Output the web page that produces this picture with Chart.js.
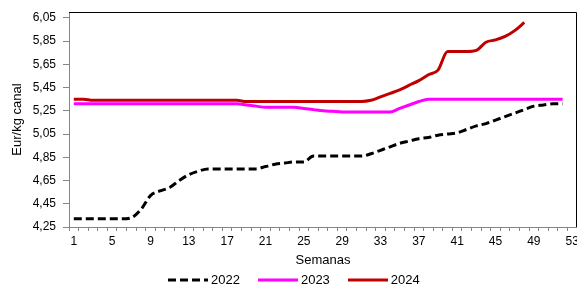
<!DOCTYPE html>
<html>
<head>
<meta charset="utf-8">
<script src="https://cdn.jsdelivr.net/npm/chart.js@4.4.0/dist/chart.umd.min.js"></script>
<style>
    html, body { margin: 0; padding: 0; background: #fff; }
    #wrap { position: relative; width: 577px; height: 286px; }
    #legend { position: absolute; left: 168px; top: 272px; display: flex; align-items: center;
              font: 13px "Liberation Sans", Arial, sans-serif; color: #000; line-height: 16px; }
    .item { display: flex; align-items: center; margin-right: 18px; }
    .item svg { margin-right: 3px; }
</style>
</head>
<body>
<div id="wrap">
    <canvas id="chart" width="577" height="286"></canvas>
    <div id="legend"></div>
</div>
<script>
"use strict";

var weekLabels = ['1', '2', '3', '4', '5', '6', '7', '8', '9', '10', '11', '12', '13', '14', '15', '16', '17', '18',
    '19', '20', '21', '22', '23', '24', '25', '26', '27', '28', '29', '30', '31', '32', '33', '34', '35', '36',
    '37', '38', '39', '40', '41', '42', '43', '44', '45', '46', '47', '48', '49', '50', '51', '52', '53'];

var yTicks = [4.25, 4.45, 4.65, 4.85, 5.05, 5.25, 5.45, 5.65, 5.85, 6.05];

var data2022 = [4.32, 4.32, 4.32, 4.32, 4.32, 4.32, 4.33, 4.40, 4.52, 4.56, 4.59, 4.65, 4.70, 4.73, 4.75, 4.75, 4.75, 4.75,
    4.75, 4.75, 4.77, 4.79, 4.80, 4.81, 4.81, 4.86, 4.86, 4.86, 4.86, 4.86, 4.86, 4.88, 4.91, 4.94, 4.97, 4.99,
    5.01, 5.02, 5.04, 5.05, 5.06, 5.09, 5.12, 5.14, 5.17, 5.20, 5.23, 5.26, 5.29, 5.30, 5.31, 5.31];

var data2023 = [5.31, 5.31, 5.31, 5.31, 5.31, 5.31, 5.31, 5.31, 5.31, 5.31, 5.31, 5.31, 5.31, 5.31, 5.31, 5.31, 5.31, 5.31,
    5.30, 5.29, 5.28, 5.28, 5.28, 5.28, 5.27, 5.26, 5.25, 5.245, 5.24, 5.24, 5.24, 5.24, 5.24, 5.24, 5.27, 5.30,
    5.33, 5.35, 5.35, 5.35, 5.35, 5.35, 5.35, 5.35, 5.35, 5.35, 5.35, 5.35, 5.35, 5.35, 5.35, 5.35];

var data2024 = [5.35, 5.35, 5.34, 5.34, 5.34, 5.34, 5.34, 5.34, 5.34, 5.34, 5.34, 5.34, 5.34, 5.34, 5.34, 5.34, 5.34, 5.34,
    5.33, 5.33, 5.33, 5.33, 5.33, 5.33, 5.33, 5.33, 5.33, 5.33, 5.33, 5.33, 5.33, 5.34, 5.37, 5.40, 5.43, 5.47,
    5.51, 5.56, 5.60, 5.76, 5.76, 5.76, 5.77, 5.84, 5.86, 5.89, 5.94, 6.01];

var series = [
    { label: '2022', data: data2022, color: '#000000', dash: [8, 4] },
    { label: '2023', data: data2023, color: '#FF00FF', dash: [] },
    { label: '2024', data: data2024, color: '#C00000', dash: [] }
];

Chart.defaults.font.family = '"Liberation Sans", Arial, sans-serif';
Chart.defaults.color = '#000';

// top and right border of the plot area
var frame = {
    id: 'frame',
    afterDraw: function (chart) {
        var a = chart.chartArea, ctx = chart.ctx;
        ctx.save();
        ctx.strokeStyle = '#000';
        ctx.lineWidth = 1;
        ctx.beginPath();
        ctx.moveTo(a.left, a.top + 0.5);
        ctx.lineTo(a.right - 0.5, a.top + 0.5);
        ctx.lineTo(a.right - 0.5, a.bottom);
        ctx.stroke();
        ctx.restore();
    }
};

var ctx = document.getElementById('chart').getContext('2d');
var chart = new Chart(ctx, {
    type: 'line',
    data: {
        labels: weekLabels,
        datasets: series.map(function (s) {
            return {
                label: s.label,
                data: s.data,
                borderColor: s.color,
                backgroundColor: s.color,
                borderDash: s.dash,
                borderWidth: 3,
                pointRadius: 0,
                cubicInterpolationMode: 'monotone',
                fill: false
            };
        })
    },
    options: {
        responsive: false,
        animation: false,
        layout: { padding: { top: 12, right: 0, bottom: 18, left: 10 } },
        plugins: {
            legend: { display: false },
            tooltip: { enabled: false }
        },
        scales: {
            x: {
                offset: true,
                grid: { drawOnChartArea: false, drawTicks: true, tickLength: 4, color: '#868686', offset: true },
                border: { color: '#868686', width: 1 },
                ticks: {
                    autoSkip: false, maxRotation: 0, minRotation: 0, padding: 3,
                    font: { size: 12 },
                    callback: function (val, i) { return i % 4 === 0 ? this.getLabelForValue(val) : ''; }
                },
                title: { display: true, text: 'Semanas', font: { size: 13 }, padding: { top: 2, bottom: 0 } },
                afterFit: function (scale) {
                    scale.height = 41;
                    scale.paddingLeft = 0;
                    scale.paddingRight = 0;
                }
            },
            y: {
                min: 4.25,
                max: 6.1,
                afterBuildTicks: function (scale) {
                    scale.ticks = yTicks.map(function (v) { return { value: v }; });
                },
                grid: { drawOnChartArea: false, tickLength: 6, color: '#868686' },
                border: { color: '#868686', width: 1 },
                ticks: {
                    padding: 7,
                    font: { size: 12 },
                    callback: function (v) { return v.toFixed(2).replace('.', ','); }
                },
                title: { display: true, text: 'Eur/kg canal', font: { size: 13 }, padding: { top: 0, bottom: 0 } },
                afterFit: function (scale) {
                    scale.width = 59;
                    scale.paddingTop = 0;
                    scale.paddingBottom = 0;
                }
            }
        }
    },
    plugins: [frame]
});

// Legend built as html so it sits where the original has it
var legend = document.getElementById('legend');
series.forEach(function (s) {
    var item = document.createElement('div');
    item.className = 'item';
    item.innerHTML = '<svg width="40" height="8"><line x1="0" y1="4" x2="40" y2="4" stroke="' + s.color +
        '" stroke-width="3"' + (s.dash.length ? ' stroke-dasharray="' + s.dash.join(' ') + '"' : '') +
        '/></svg><span>' + s.label + '</span>';
    legend.appendChild(item);
});
</script>
</body>
</html>
